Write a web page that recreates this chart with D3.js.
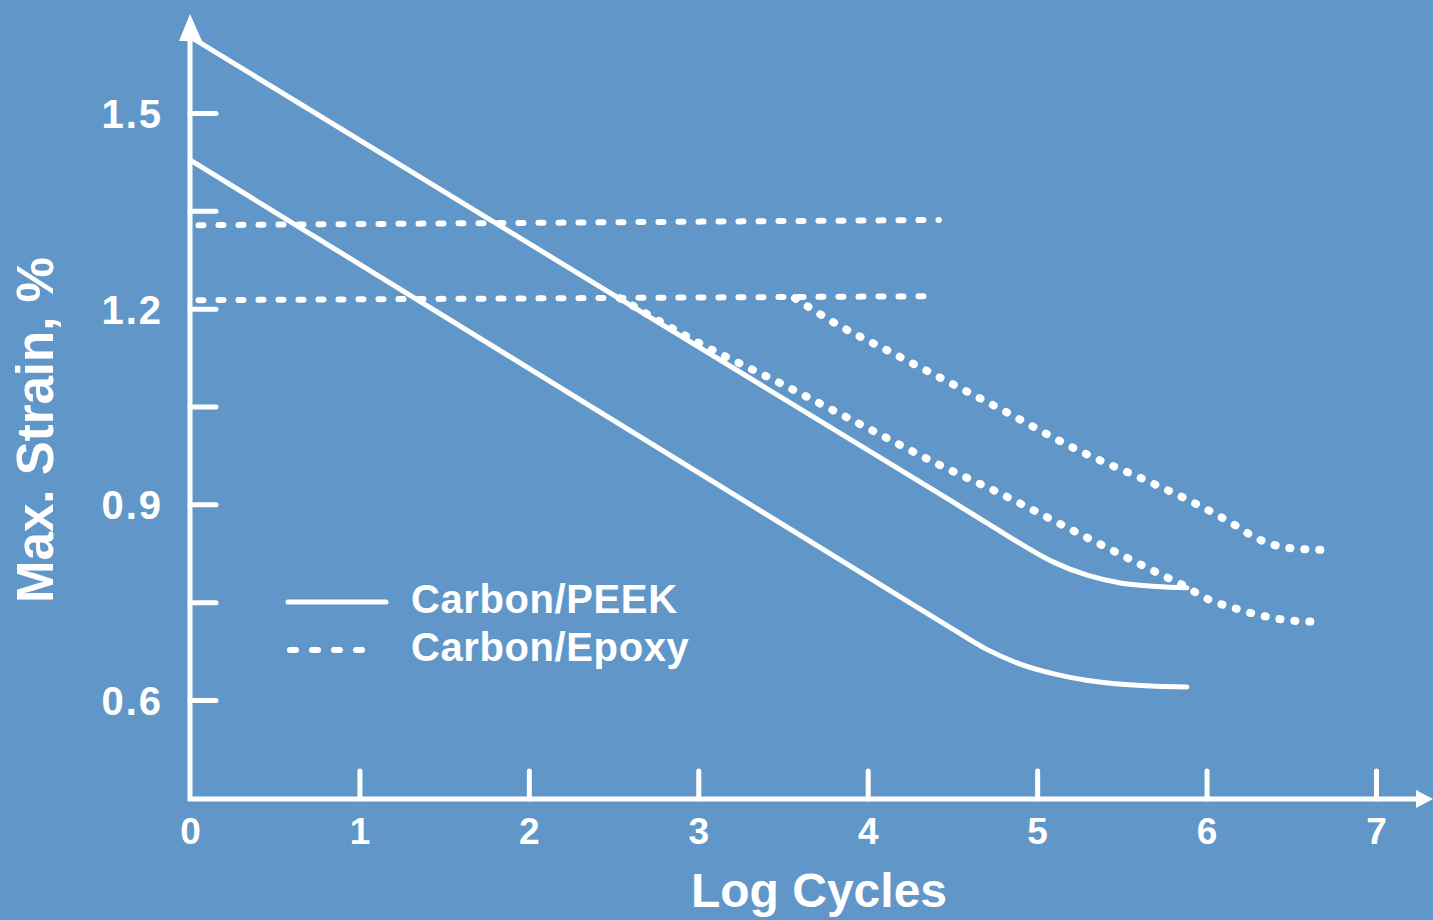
<!DOCTYPE html>
<html><head><meta charset="utf-8">
<script src="https://cdn.jsdelivr.net/npm/d3@7"></script>
<style>
html,body{margin:0;padding:0;background:#6196c9;}
svg{display:block;}
text{font-family:"Liberation Sans",Arial,Helvetica,sans-serif;font-weight:bold;fill:#fff;}
</style></head>
<body>
<svg id="chart" width="1433" height="920"></svg>
<script>
// ---- data (x = log cycles, y = max. strain %) ----
const xTicks = [0,1,2,3,4,5,6,7];
const yTicks = [0.6,0.75,0.9,1.05,1.2,1.35,1.5];
const yTickLabels = {0.6:"0.6",0.9:"0.9",1.2:"1.2",1.5:"1.5"};

const peekUpper = [[0,1.617],[4.5,0.904],[4.7,0.872],[4.9,0.840],[5.1,0.811],[5.3,0.791],[5.5,0.779],[5.7,0.774],[5.884,0.772]];
const peekLower = [[0,1.428],[4.3,0.741],[4.5,0.709],[4.7,0.678],[4.9,0.655],[5.1,0.640],[5.3,0.630],[5.5,0.624],[5.7,0.621],[5.884,0.620]];
const epoxyUpperFlat = [[0.05,1.328],[4.42,1.336]];
const epoxyLowerFlat = [[0.05,1.213],[4.36,1.219]];
const epoxyBranchA = [[3.571,1.216],[3.819,1.176],[4.131,1.134],[4.444,1.092],[4.763,1.049],[5.241,0.983],[5.666,0.934],[5.912,0.904],[6.150,0.871],[6.303,0.847],[6.486,0.833],[6.699,0.830]];
const epoxyBranchB = [[2.538,1.216],[2.992,1.149],[3.482,1.086],[3.954,1.023],[4.427,0.960],[4.763,0.919],[5.241,0.856],[5.725,0.793],[5.890,0.772],[5.961,0.761],[6.050,0.750],[6.138,0.743],[6.239,0.735],[6.333,0.729],[6.433,0.724],[6.540,0.721],[6.670,0.720]];

const legendItems = ["Carbon/PEEK","Carbon/Epoxy"];

// ---- layout ----
const svg = d3.select("#chart");
const x = d3.scaleLinear().domain([0,7]).range([190,1376]);
const y = d3.scaleLinear().domain([0.6,1.5]).range([700,113]);
const axisY0 = 799;

// axes lines with arrows
svg.append("line").attr("x1",190).attr("y1",axisY0+2).attr("x2",190).attr("y2",36)
  .attr("stroke","#fff").attr("stroke-width",5);
svg.append("path").attr("d","M190,14 L179,41 L202,41 Z").attr("fill","#fff");
svg.append("line").attr("x1",188).attr("y1",axisY0).attr("x2",1418).attr("y2",axisY0)
  .attr("stroke","#fff").attr("stroke-width",5);
svg.append("path").attr("d",`M1433,${axisY0} L1416,${axisY0-9} L1416,${axisY0+9} Z`).attr("fill","#fff");

// y axis ticks & labels
const gy = svg.append("g").attr("transform","translate(190,0)")
  .call(d3.axisLeft(y).tickValues(yTicks).tickSize(-26).tickPadding(27)
    .tickFormat(d => yTickLabels[d] || ""));
gy.select(".domain").remove();
gy.selectAll(".tick line").attr("stroke","#fff").attr("stroke-width",5).attr("stroke-linecap","round");
gy.selectAll(".tick text").attr("fill","#fff").style("font-size","40px").attr("dy","0.36em")
  .style("letter-spacing","2px")
  .style("font-family","'Liberation Sans',Arial,sans-serif").style("font-weight","bold");

// x axis ticks & labels
const gx = svg.append("g").attr("transform",`translate(0,${axisY0})`)
  .call(d3.axisBottom(x).tickValues(xTicks).tickSize(-28).tickPadding(19).tickFormat(d3.format("d")));
gx.select(".domain").remove();
gx.selectAll(".tick line").attr("stroke","#fff").attr("stroke-width",5).attr("stroke-linecap","round");
gx.selectAll(".tick line").filter(d => d===0).remove();
gx.selectAll(".tick text").attr("fill","#fff").style("font-size","37px")
  .style("font-family","'Liberation Sans Narrow','Liberation Sans',Arial,sans-serif").style("font-weight","bold");

// axis titles
svg.append("text").attr("x",819).attr("y",907).attr("text-anchor","middle")
  .style("font-size","48px").text("Log Cycles");
svg.append("text").attr("transform","translate(53,430) rotate(-90)").attr("text-anchor","middle")
  .style("font-size","51px").text("Max. Strain, %");

// lines
const line = d3.line().x(d => x(d[0])).y(d => y(d[1])).curve(d3.curveMonotoneX);
const solid = {stroke:"#fff","stroke-width":5,fill:"none","stroke-linecap":"round"};
function draw(data, attrs){
  const p = svg.append("path").datum(data).attr("d", line);
  Object.entries(attrs).forEach(([k,v]) => p.attr(k,v));
  return p;
}
draw(peekUpper, solid);
draw(peekLower, solid);
const dashed = {stroke:"#fff","stroke-width":6,fill:"none","stroke-linecap":"round","stroke-dasharray":"5 15"};
const dotted = {stroke:"#fff","stroke-width":8,fill:"none","stroke-linecap":"round","stroke-dasharray":"1 14"};
draw(epoxyUpperFlat, dashed);
draw(epoxyLowerFlat, dashed);
draw(epoxyBranchA, dotted);
draw(epoxyBranchB, dotted);

// legend
const lg = svg.append("g");
lg.append("line").attr("x1",288).attr("x2",386).attr("y1",602).attr("y2",602)
  .attr("stroke","#fff").attr("stroke-width",5).attr("stroke-linecap","round");
lg.append("line").attr("x1",290).attr("x2",378).attr("y1",650).attr("y2",650)
  .attr("stroke","#fff").attr("stroke-width",6).attr("stroke-linecap","round").attr("stroke-dasharray","6 16");
lg.selectAll("text.leg").data(legendItems).enter().append("text").attr("class","leg")
  .attr("x",411).attr("y",(d,i) => 613 + i*48).style("font-size","40px").style("letter-spacing","0.6px").text(d => d);
</script>
</body></html>
